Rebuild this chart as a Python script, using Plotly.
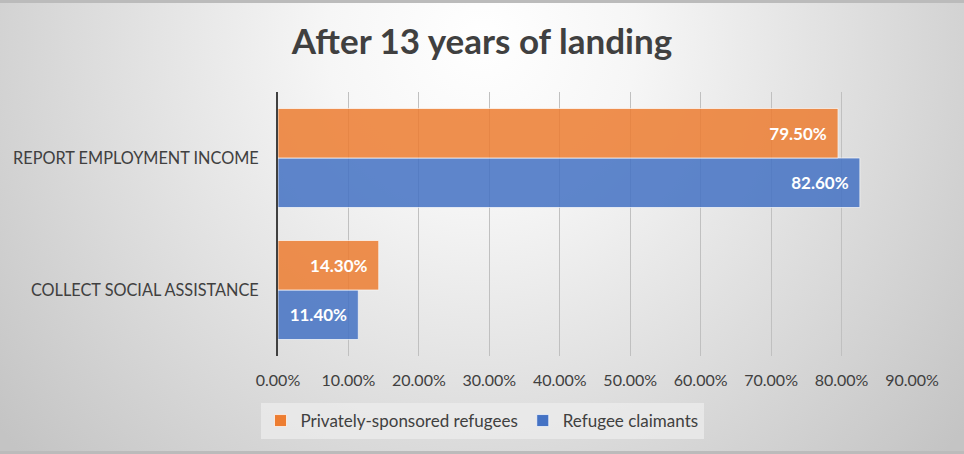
import base64
import plotly.graph_objects as go

categories = ["COLLECT SOCIAL ASSISTANCE", "REPORT EMPLOYMENT INCOME"]
private_sponsored = [0.143, 0.795]
refugee_claimants = [0.114, 0.826]
x_ticks = [0.0, 0.1, 0.2, 0.3, 0.4, 0.5, 0.6, 0.7, 0.8, 0.9]
title_text = "After 13 years of landing"

W, H = 964, 454
L, R, T, B = 278, 52, 92, 98
pw, ph = W - L - R, H - T - B

svg = f'''<svg xmlns="http://www.w3.org/2000/svg" width="{W}" height="{H}" viewBox="0 0 {W} {H}" preserveAspectRatio="none">
<defs><radialGradient id="g" gradientUnits="userSpaceOnUse" cx="482" cy="40" r="620">
<stop offset="0" stop-color="#ffffff"/><stop offset="0.25" stop-color="#f6f6f6"/>
<stop offset="0.55" stop-color="#e2e2e2"/><stop offset="1" stop-color="#c4c4c4"/></radialGradient></defs>
<rect width="{W}" height="{H}" fill="url(#g)"/></svg>'''
bg_src = "data:image/svg+xml;base64," + base64.b64encode(svg.encode()).decode()

font = "Lato"
dark = "#404040"

fig = go.Figure()
fig.add_trace(go.Bar(
    y=categories, x=refugee_claimants, orientation="h", name="Refugee claimants",
    marker=dict(color="#4472C4", opacity=0.85, line=dict(color="rgba(255,255,255,0.7)", width=1)),
    texttemplate="%{x:.2%}\u00a0\u00a0", textposition="inside", insidetextanchor="end",
    textfont=dict(color="white", size=17, family=font, weight="bold"),
))
fig.add_trace(go.Bar(
    y=categories, x=private_sponsored, orientation="h", name="Privately-sponsored refugees",
    marker=dict(color="#ED7D31", opacity=0.85, line=dict(color="rgba(255,255,255,0.7)", width=1)),
    texttemplate="%{x:.2%}\u00a0\u00a0", textposition="inside", insidetextanchor="end",
    textfont=dict(color="white", size=17, family=font, weight="bold"),
))

fig.update_layout(
    width=W, height=H,
    margin=dict(l=L, r=R, t=T, b=B),
    paper_bgcolor="#d8d8d8", plot_bgcolor="rgba(0,0,0,0)",
    barmode="group", bargap=0.25, bargroupgap=0,
    title=dict(text=title_text, x=0.5, xref="container", xanchor="center",
               y=1 - 42 / H, yref="container", yanchor="middle",
               font=dict(family=font, size=35, color=dark, weight="bold")),
    xaxis=dict(range=[0, 0.9], tickvals=x_ticks, tickformat=".2%",
               showgrid=True, gridcolor="#c0c0c0", gridwidth=1, zeroline=False,
               tickfont=dict(family=font, size=16, color=dark), ticklabelstandoff=13,
               showline=False),
    yaxis=dict(showgrid=False, showline=True, linecolor=dark, linewidth=2,
               tickfont=dict(family=font, size=16.3, color=dark), ticklabelstandoff=14),
    legend=dict(orientation="h", traceorder="reversed", xref="container", yref="container",
                x=0.5, xanchor="center", y=1 - 403 / H, yanchor="top",
                bgcolor="rgba(236,236,236,0.75)", font=dict(family=font, size=17, color=dark),
                itemwidth=30),
    images=[dict(source=bg_src, xref="paper", yref="paper", x=-L / pw, y=1 + T / ph,
                 sizex=W / pw, sizey=H / ph, sizing="stretch", layer="below",
                 xanchor="left", yanchor="top")],
    shapes=[
        dict(type="rect", xref="paper", yref="paper", x0=-L / pw, x1=1 + R / pw,
             y0=1 + T / ph - 3 / ph, y1=1 + T / ph, fillcolor="#bbbbbb", line_width=0, layer="above"),
        dict(type="rect", xref="paper", yref="paper", x0=-L / pw, x1=1 + R / pw,
             y0=-B / ph, y1=-B / ph + 3 / ph, fillcolor="#bbbbbb", line_width=0, layer="above"),
    ],
    showlegend=True,
)

fig.write_html("out.html", config={"displayModeBar": False},
               post_script="document.body.style.margin='0';document.body.style.padding='0';")
